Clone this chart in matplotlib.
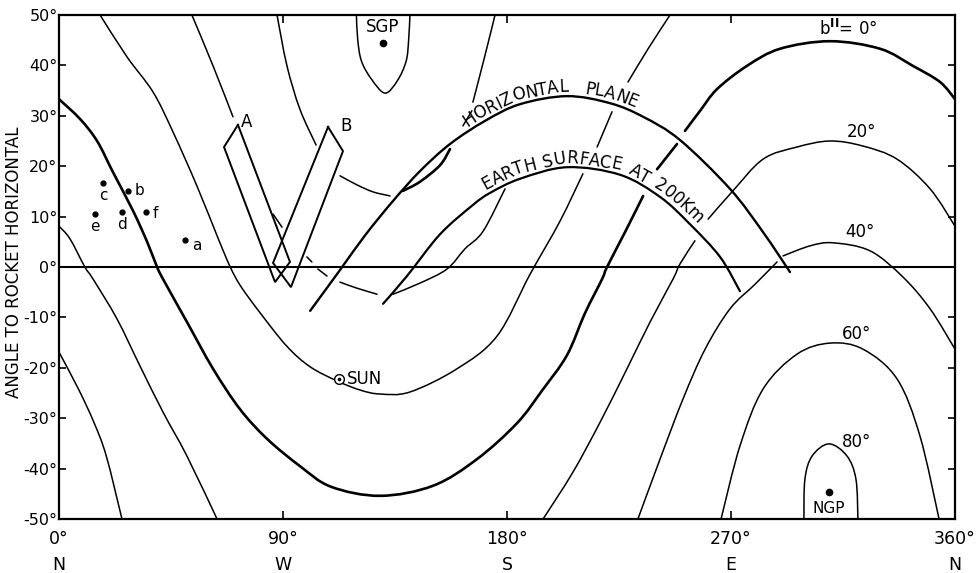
import numpy as np
import matplotlib
matplotlib.use("Agg")
import matplotlib.pyplot as plt
from matplotlib.font_manager import FontProperties
from matplotlib.path import Path
from matplotlib.patches import PathPatch

# ---------------------------------------------------------------------------
# Galactic latitude contours (b^II) in rocket azimuth / elevation coordinates.
# Each contour is stored as a list of drawn pieces (azimuth deg, elevation deg).
# ---------------------------------------------------------------------------
B_M80_AZ = [[119.5, 120.0, 121.5, 125.5, 131.0, 136.0, 139.5, 140.5, 141.0]]
B_M80_EL = [[50.0, 45.2, 40.9, 37.3, 34.5, 37.0, 40.9, 45.2, 50.0]]

B_M60_AZ = [[87.6, 91.6, 96.8, 103.3],
            [112.9, 119.7, 126.2, 133.0],
            [138.2, 145.0, 153.1, 157.1],
            [162.3, 165.9],
            [166.3, 170.8, 175.2]]
B_M60_EL = [[50.0, 39.9, 31.3, 24.2],
            [18.1, 16.3, 14.9, 14.1],
            [15.1, 16.9, 20.2, 23.4],
            [28.0, 31.0],
            [32.7, 41.3, 50.0]]

B_M40_AZ = [[53.4, 61.9, 69.9],
            [86.0, 89.6],
            [99.6, 101.6],
            [104.0, 107.7],
            [112.9, 119.7, 127.8],
            [134.2, 145.0, 155.9, 163.1, 170.4, 179.2]]
B_M40_EL = [[50.0, 39.9, 29.8],
            [10.5, 7.9],
            [2.0, 1.0],
            [-0.4, -1.8],
            [-3.0, -4.2, -5.4],
            [-5.4, -3.2, -0.4, 3.6, 7.1, 15.5]]

B_M20_AZ = [[16.5, 27.3, 37.8, 45.8, 55.4, 64.0, 68.8, 73.0, 80.5, 91.5, 100.9,
             111.7, 120.9, 129.0, 141.0, 159.9, 176.0, 189.2, 201.3, 210.5],
            [216.2, 222.2],
            [228.6, 236.7, 245.5]]
B_M20_EL = [[50.0, 41.7, 34.7, 26.8, 16.1, 5.6, 0.0, -3.8, -8.9, -15.7, -19.8,
             -22.6, -24.4, -25.2, -24.8, -20.2, -13.7, -1.5, 9.1, 18.5],
            [23.8, 30.8],
            [36.7, 43.3, 50.0]]

B_0_AZ = [[0.0, 8.4, 15.3, 21.7, 29.7, 35.4, 39.4, 41.8, 51.4, 61.9, 72.7, 83.6,
           96.8, 109.3, 129.0, 150.3, 168.0, 184.0, 194.1, 204.1, 211.3, 218.2,
           220.2, 227.4, 234.7],
          [240.3, 248.3],
          [251.5, 257.6, 264.4, 276.4, 289.7, 309.8, 329.9, 343.1, 354.0, 360.0]]
B_0_EL = [[33.3, 29.4, 25.0, 18.8, 11.2, 5.0, 0.0, -2.4, -10.9, -20.2, -28.2, -34.1,
           -39.5, -43.6, -45.4, -43.4, -38.1, -31.0, -24.5, -17.5, -9.2, -2.4,
           0.0, 6.9, 14.1],
          [19.4, 24.4],
          [27.0, 31.0, 35.3, 39.9, 43.3, 44.8, 43.3, 39.9, 36.7, 33.3]]

B_20_AZ = [[0.0, 4.4, 10.4, 13.7, 23.3, 32.5, 41.8, 51.4, 63.5],
           [194.5, 206.5, 217.4, 228.2, 237.5, 246.7, 249.5, 255.5],
           [260.8, 270.4, 282.9, 296.5, 309.8, 323.0, 336.7, 350.0, 360.0]]
B_20_EL = [[8.1, 5.6, 0.0, -2.4, -10.3, -19.6, -28.8, -37.5, -50.0],
           [-50.0, -40.7, -30.8, -20.2, -10.9, -2.4, 0.6, 5.2],
           [9.5, 14.9, 21.4, 23.8, 25.0, 24.0, 21.4, 15.5, 8.1]]

B_40_AZ = [[0.0, 7.8, 14.0, 19.0, 25.3],
           [232.6, 241.5, 250.7, 259.6, 269.6, 279.7, 288.5],
           [290.9, 301.8, 311.0, 325.9, 339.1, 350.0, 360.0]]
B_40_EL = [[-16.9, -24.2, -30.8, -37.5, -50.0],
           [-50.0, -38.1, -26.2, -16.3, -8.3, -3.4, 1.0],
           [2.2, 4.2, 4.8, 3.2, -2.0, -8.3, -16.3]]

B_60_AZ = [[266.0, 273.6, 282.9, 296.5, 309.8, 323.0, 336.7, 345.9, 353.6]]
B_60_EL = [[-50.0, -35.5, -24.2, -17.3, -15.1, -16.3, -22.2, -33.5, -50.0]]

B_80_AZ = [[299.3, 299.7, 302.6, 309.4, 316.6, 320.2, 321.0]]
B_80_EL = [[-50.0, -42.1, -37.5, -35.1, -37.5, -42.1, -50.0]]

# Horizontal plane and the Earth's limb seen from 200 km
HORIZ_AZ = [100.9, 112.9, 123.0, 134.2, 145.0, 157.1, 171.2, 185.2, 204.1, 221.4,
            234.7, 249.5, 269.6, 282.9, 293.7]
HORIZ_EL = [-8.7, -0.6, 6.3, 13.1, 19.0, 24.4, 29.0, 32.3, 33.9, 32.5,
            29.8, 25.2, 15.5, 6.9, -1.0]
EARTH_AZ = [130.2, 139.8, 153.1, 166.3, 173.2, 185.2, 204.1, 225.4, 241.5, 253.5,
            265.6, 273.6]
EARTH_EL = [-7.3, -1.8, 6.5, 12.3, 14.7, 17.5, 19.8, 18.3, 13.9, 8.5, 2.0, -4.8]

# Detector fields of view
BOX_A_AZ = [71.9, 92.8, 86.8, 66.3, 71.9]
BOX_A_EL = [28.2, 1.0, -3.0, 23.8, 28.2]
BOX_B_AZ = [108.1, 114.1, 93.2, 86.0, 108.1]
BOX_B_EL = [27.8, 23.0, -4.0, 0.8, 27.8]

# Sources and reference points
SRC_NAMES = ["a", "b", "c", "d", "e", "f"]
SRC_AZ = [50.6, 27.7, 17.7, 25.3, 14.5, 35.0]
SRC_EL = [5.4, 15.1, 16.7, 10.9, 10.5, 10.9]
SGP = (130.2, 44.5)
NGP = (309.4, -44.7)
SUN = (112.5, -22.2)

X_TICKS = [0, 90, 180, 270, 360]
X_LABELS = ["0°", "90°", "180°", "270°", "360°"]
X_DIRS = ["N", "W", "S", "E", "N"]
Y_TICKS = [50, 40, 30, 20, 10, 0, -10, -20, -30, -40, -50]
Y_LABELS = ["50°", "40°", "30°", "20°", "10°", "0°", "-10°", "-20°", "-30°", "-40°", "-50°"]

# ---------------------------------------------------------------------------
W, H = 978, 573
fig = plt.figure(figsize=(W / 100, H / 100), dpi=100)
ax = fig.add_axes([59 / W, 1 - 519 / H, (955 - 59) / W, (519 - 15) / H])
ax.set_xlim(0, 360)
ax.set_ylim(-50, 50)

THIN = 1.1
BOLD = 1.9


def smooth_path(xs, ys):
    """Catmull-Rom curve through the given vertices, as cubic Bezier segments."""
    p = np.column_stack([xs, ys]).astype(float)
    if len(p) < 3:
        return Path(p)
    ext = np.vstack([p[0], p, p[-1]])
    verts = [p[0]]
    codes = [Path.MOVETO]
    for i in range(1, len(ext) - 2):
        p0, p1, p2, p3 = ext[i - 1], ext[i], ext[i + 1], ext[i + 2]
        verts += [p1 + (p2 - p0) / 6.0, p2 - (p3 - p1) / 6.0, p2]
        codes += [Path.CURVE4] * 3
    return Path(np.array(verts), codes)


def draw_curve(xs, ys, lw):
    ax.add_patch(PathPatch(smooth_path(xs, ys), fill=False, edgecolor="black",
                           lw=lw, capstyle="round", joinstyle="round"))


def draw_pieces(az_list, el_list, lw=THIN, bold_idx=()):
    for i, (a, e) in enumerate(zip(az_list, el_list)):
        draw_curve(a, e, BOLD if i in bold_idx else lw)


draw_pieces(B_M80_AZ, B_M80_EL)
draw_pieces(B_M60_AZ, B_M60_EL, bold_idx=(2,))
draw_pieces(B_M40_AZ, B_M40_EL)
draw_pieces(B_M20_AZ, B_M20_EL)
draw_pieces(B_0_AZ, B_0_EL, lw=BOLD)
draw_pieces(B_20_AZ, B_20_EL)
draw_pieces(B_40_AZ, B_40_EL)
draw_pieces(B_60_AZ, B_60_EL)
draw_pieces(B_80_AZ, B_80_EL)

draw_curve(HORIZ_AZ, HORIZ_EL, 1.7)
draw_curve(EARTH_AZ, EARTH_EL, 1.6)

ax.plot(BOX_A_AZ, BOX_A_EL, color="black", lw=1.4, solid_joinstyle="miter")
ax.plot(BOX_B_AZ, BOX_B_EL, color="black", lw=1.4, solid_joinstyle="miter")

ax.axhline(0, color="black", lw=1.5)

# Points
ax.plot(SRC_AZ, SRC_EL, "o", color="black", ms=3.5)
offsets = {"a": (5, -4, "left"), "b": (5, 0, "left"), "c": (0, -9, "center"),
           "d": (0, -9, "center"), "e": (0, -9, "center"), "f": (5, -1, "left")}
for n, a, e in zip(SRC_NAMES, SRC_AZ, SRC_EL):
    dx, dy, ha = offsets[n]
    ax.annotate(n, (a, e), xytext=(dx, dy), textcoords="offset points",
                ha=ha, va="center", fontsize=11)

ax.plot(*SGP, "o", color="black", ms=4.5)
ax.text(SGP[0], SGP[1] + 3.2, "SGP", ha="center", va="center", fontsize=12)
ax.plot(*NGP, "o", color="black", ms=4.5)
ax.text(NGP[0], NGP[1] - 3.3, "NGP", ha="center", va="center", fontsize=11)

ax.plot(*SUN, "o", mfc="white", mec="black", ms=7, mew=1.0)
ax.plot(*SUN, "o", color="black", ms=1.6)
ax.text(SUN[0] + 3.0, SUN[1], "SUN", ha="left", va="center", fontsize=12)

ax.text(75.5, 28.8, "A", ha="center", va="center", fontsize=12)
ax.text(115.2, 28.0, "B", ha="center", va="center", fontsize=12)

# Contour value labels
ax.text(317.0, 47.3, r"b$^{\mathbf{II}}$= 0°", ha="center", va="center", fontsize=12)
ax.text(322.5, 26.8, "20°", ha="center", va="center", fontsize=12)
ax.text(321.8, 6.9, "40°", ha="center", va="center", fontsize=12)
ax.text(320.6, -13.3, "60°", ha="center", va="center", fontsize=12)
ax.text(320.6, -34.7, "80°", ha="center", va="center", fontsize=12)


# Lettering that follows a curve
def curve_label(text, az, el, start_px, offset_px, fs, track=1.0):
    renderer = fig.canvas.get_renderer()
    fp = FontProperties(family="DejaVu Sans", size=fs)
    pts = ax.transData.transform(np.column_stack([az, el]))
    seg = np.hypot(*np.diff(pts, axis=0).T)
    s = np.concatenate([[0.0], np.cumsum(seg)])
    sd = np.linspace(0, s[-1], 4000)
    px = np.interp(sd, s, pts[:, 0])
    py = np.interp(sd, s, pts[:, 1])
    pos = np.interp(start_px, px, sd)
    inv = ax.transData.inverted()
    for ch in text:
        if ch == " ":
            w = 0.45 * fs * fig.dpi / 72
        else:
            w, _, _ = renderer.get_text_width_height_descent(ch, fp, ismath=False)
        w *= track
        c = pos + w / 2
        x0, y0 = np.interp(c, sd, px), np.interp(c, sd, py)
        xa, ya = np.interp(c - 10, sd, px), np.interp(c - 10, sd, py)
        xb, yb = np.interp(c + 10, sd, px), np.interp(c + 10, sd, py)
        ang = np.arctan2(yb - ya, xb - xa)
        nx, ny = -np.sin(ang), np.cos(ang)
        X, Y = inv.transform((x0 + nx * offset_px, y0 + ny * offset_px))
        if ch != " ":
            ax.text(X, Y, ch, fontproperties=fp, rotation=np.degrees(ang),
                    rotation_mode="anchor", ha="center", va="baseline")
        pos += w


curve_label("HORIZONTAL  PLANE", HORIZ_AZ, HORIZ_EL, 470, 5, 12, track=0.97)
curve_label("EARTH SURFACE AT 200Km", EARTH_AZ, EARTH_EL, 488, 5, 12, track=0.97)

# Axes, ticks and labels
for sp in ax.spines.values():
    sp.set_linewidth(1.6)

ax.set_xticks(X_TICKS)
ax.set_xticklabels(X_LABELS, fontsize=12.5)
ax.set_yticks(Y_TICKS)
ax.set_yticklabels(Y_LABELS, fontsize=11.5)
ax.tick_params(axis="x", direction="in", length=6, width=1.2, top=True, pad=8)
ax.tick_params(axis="y", direction="in", length=5, width=1.2, right=True, pad=1)

for x, d in zip(X_TICKS, X_DIRS):
    ax.text(x, -0.092, d, transform=ax.get_xaxis_transform(), ha="center",
            va="center", fontsize=12.5)

fig.text(14 / W, 1 - 262 / H, "ANGLE TO ROCKET HORIZONTAL", rotation=90,
         ha="center", va="center", fontsize=12)

fig.savefig("out.png", dpi=100, facecolor="white")
